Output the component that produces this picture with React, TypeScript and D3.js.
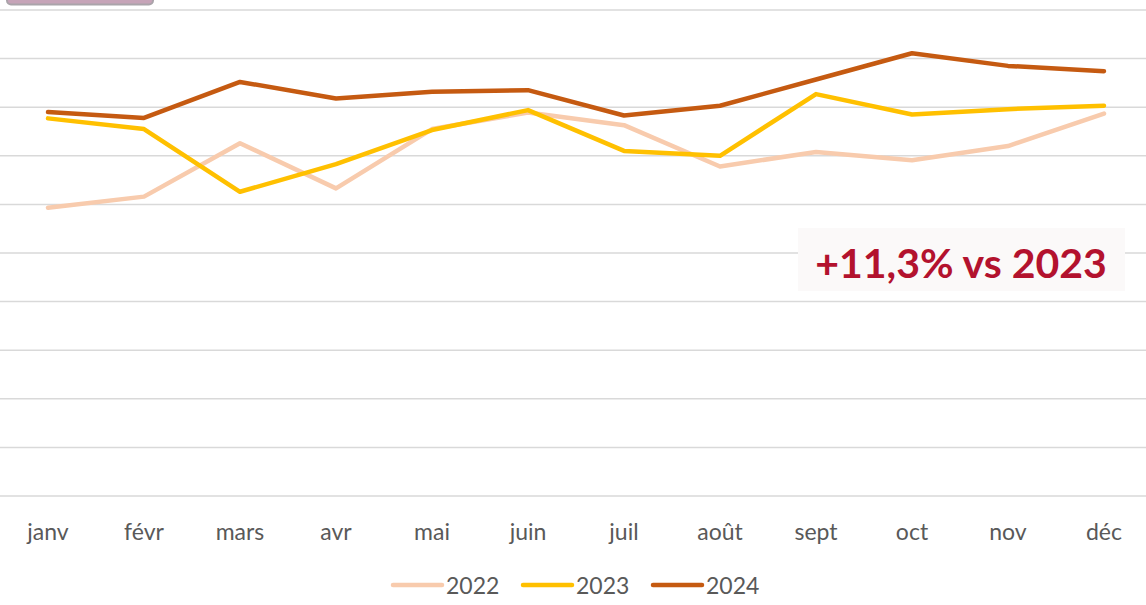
import React, { useEffect, useRef } from 'react'
import * as d3 from 'd3'

const months = ['janv', 'févr', 'mars', 'avr', 'mai', 'juin', 'juil', 'août', 'sept', 'oct', 'nov', 'déc']
const years = ['2022', '2023', '2024']
const values2022 = [59.3, 61.6, 72.6, 63.3, 75.5, 78.9, 76.3, 67.8, 70.8, 69.1, 72.0, 78.7]
const values2023 = [77.7, 75.5, 62.6, 68.3, 75.3, 79.4, 71.0, 70.0, 82.7, 78.5, 79.6, 80.3]
const values2024 = [79.0, 77.8, 85.2, 81.8, 83.2, 83.5, 78.3, 80.3, 85.7, 91.1, 88.5, 87.4]
const gridTicks = [0, 10, 20, 30, 40, 50, 60, 70, 80, 90, 100]
const colors = ['#F8CBAD', '#FFC000', '#C55A11']
const annotation = '+11,3% vs 2023'

export default function App() {
    const ref = useRef<SVGSVGElement>(null)

    useEffect(() => {
        const svg = d3.select(ref.current)
        svg.selectAll('*').remove()

        const width = 1146
        const height = 605
        const font = 'Lato, "Open Sans", sans-serif'

        const x = d3.scalePoint<string>()
            .domain(months)
            .range([0, 1152])
            .padding(0.5)

        const y = d3.scaleLinear()
            .domain([0, 100])
            .range([496, 10])

        // leftover title box, cut off at the top
        svg.append('rect')
            .attr('x', 7).attr('y', -30)
            .attr('width', 146).attr('height', 34.5)
            .attr('rx', 4)
            .attr('fill', '#c6a4b8')
            .attr('stroke', '#aaa4aa')
            .attr('stroke-width', 2)

        svg.append('g')
            .selectAll('line')
            .data(gridTicks)
            .enter()
            .append('line')
            .attr('x1', 0).attr('x2', width)
            .attr('y1', d => y(d)).attr('y2', d => y(d))
            .attr('stroke', '#d9d9d9')
            .attr('stroke-width', 1.5)

        const series = [values2022, values2023, values2024]
        const line = d3.line<number>()
            .x((_, i) => x(months[i]) as number)
            .y(d => y(d))

        svg.append('g')
            .selectAll('path')
            .data(series)
            .enter()
            .append('path')
            .attr('d', d => line(d))
            .attr('fill', 'none')
            .attr('stroke', (_, i) => colors[i])
            .attr('stroke-width', 4.5)
            .attr('stroke-linejoin', 'round')
            .attr('stroke-linecap', 'round')

        svg.append('g')
            .selectAll('text')
            .data(months)
            .enter()
            .append('text')
            .attr('x', d => x(d) as number)
            .attr('y', 540)
            .attr('text-anchor', 'middle')
            .attr('font-family', font)
            .attr('font-size', 23)
            .attr('fill', '#595959')
            .text(d => d)

        const legend = svg.append('g')
            .selectAll('g')
            .data(years)
            .enter()
            .append('g')
            .attr('transform', (_, i) => `translate(${393 + i * 130}, 585)`)
        legend.append('line')
            .attr('x1', 0).attr('x2', 49)
            .attr('stroke', (_, i) => colors[i])
            .attr('stroke-width', 4.5)
            .attr('stroke-linecap', 'round')
        legend.append('text')
            .attr('x', 53)
            .attr('y', 8.5)
            .attr('font-family', font)
            .attr('font-size', 23)
            .attr('fill', '#595959')
            .text(d => d)

        svg.append('rect')
            .attr('x', 798).attr('y', 228)
            .attr('width', 327).attr('height', 63)
            .attr('fill', '#fbf9f9')
        svg.append('text')
            .attr('x', 961)
            .attr('y', 278)
            .attr('text-anchor', 'middle')
            .attr('font-family', font)
            .attr('font-weight', 'bold')
            .attr('font-size', 41)
            .attr('fill', '#B3122E')
            .text(annotation)

        svg.attr('width', width).attr('height', height)
    }, [])

    return (
        <svg ref={ref} style={{ position: 'absolute', left: 0, top: 0, background: '#fff' }} />
    )
}
